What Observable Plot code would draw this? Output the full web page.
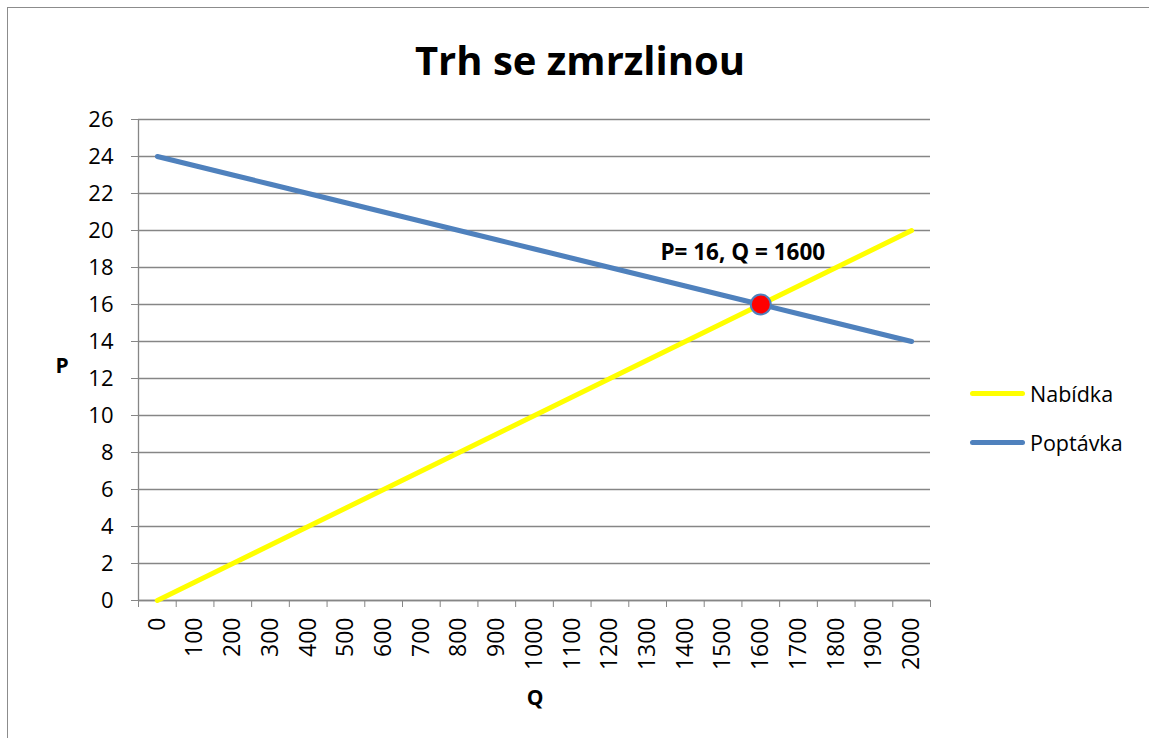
<!DOCTYPE html>
<html><head><meta charset="utf-8">
<script src="https://cdn.jsdelivr.net/npm/d3@7"></script>
<script src="https://cdn.jsdelivr.net/npm/@observablehq/plot@0.6"></script>
<style>
body{margin:0;background:#fff;font-family:"Open Sans",sans-serif;color:#000}
#wrap{position:relative;width:1149px;height:738px;overflow:hidden;background:#fff}
#frame{position:absolute;left:7px;top:7px;width:1200px;height:800px;border-left:1px solid #8c8c8c;border-top:1px solid #8c8c8c}
#chart{position:absolute;left:0;top:0}
#title{position:absolute;left:0;width:1160px;top:30px;text-align:center;font-weight:bold;font-size:40px;line-height:60px}
.axt{position:absolute;font-weight:bold;font-size:21px;line-height:24px;transform:translate(-50%,-50%)}
#legend{position:absolute;left:970px;top:378px}
.li{display:flex;align-items:center;height:30px;margin-bottom:19px;font-size:21.5px}
.sw{width:55px;height:5px;border-radius:3px;margin-right:5px}
</style></head>
<body><div id="wrap"><div id="frame"></div><div id="chart"></div>
<div id="title">Trh se zmrzlinou</div>
<div class="axt" style="left:62px;top:365px">P</div>
<div class="axt" style="left:535px;top:697px">Q</div>
<div id="legend"></div>
</div>
<script>
const quantities = [0,100,200,300,400,500,600,700,800,900,1000,1100,1200,1300,1400,1500,1600,1700,1800,1900,2000];
const supply = [0,1,2,3,4,5,6,7,8,9,10,11,12,13,14,15,16,17,18,19,20];
const demand = [24,23.5,23,22.5,22,21.5,21,20.5,20,19.5,19,18.5,18,17.5,17,16.5,16,15.5,15,14.5,14];
const priceTicks = [0,2,4,6,8,10,12,14,16,18,20,22,24,26];
const seriesNames = ["Nabídka","Poptávka"];
const seriesColors = ["#FFFF00","#4F81BD"];
const equilibrium = [{Q:1600,P:16,label:"P= 16, Q = 1600"}];

const rows = quantities.flatMap((q,i)=>[{Q:q,P:supply[i],s:seriesNames[0]},{Q:q,P:demand[i],s:seriesNames[1]}]);
const step = quantities[1]-quantities[0];
const boundaries = [...quantities.map(q=>q-step/2), quantities[quantities.length-1]+step/2];
const gridC = "#868686";

const chart = Plot.plot({
  width:1149, height:738,
  marginLeft:138, marginRight:219, marginTop:119, marginBottom:138,
  x:{type:"linear", domain:[boundaries[0], boundaries[boundaries.length-1]]},
  y:{domain:[0,26]},
  color:{domain:seriesNames, range:seriesColors},
  style:{fontFamily:"'Open Sans', sans-serif", color:"#000", background:"transparent", overflow:"visible"},
  marks:[
    Plot.gridY(priceTicks,{stroke:gridC, strokeOpacity:1, strokeWidth:1.3}),
    Plot.ruleX([boundaries[0]],{stroke:gridC, strokeWidth:1.3}),
    Plot.ruleY([0],{stroke:gridC, strokeWidth:1.3}),
    Plot.axisY(priceTicks,{tickSize:7, tickPadding:18, stroke:gridC, fill:"#000", label:null, fontSize:22}),
    Plot.axisX(boundaries,{tickSize:7, tickFormat:()=>"", stroke:gridC, label:null}),
    Plot.axisX(quantities,{tickSize:0, tickRotate:-90, tickPadding:17, fill:"#000", label:null, fontSize:23, tickFormat:d=>String(d)}),
    Plot.line(rows,{x:"Q", y:"P", z:"s", stroke:"s", strokeWidth:5, strokeLinecap:"round"}),
    Plot.dot(equilibrium,{x:"Q", y:"P", r:10, fill:"#FF0000", stroke:"#4F81BD", strokeWidth:2}),
    Plot.text(equilibrium,{x:"Q", y:"P", text:"label", dy:-52, dx:-18, fontWeight:"bold", fontSize:22.5, fill:"#000"})
  ]
});
document.getElementById("chart").appendChild(chart);

const lg = document.getElementById("legend");
seriesNames.forEach((n,i)=>{
  const d = document.createElement("div"); d.className="li";
  d.innerHTML = `<div class="sw" style="background:${seriesColors[i]}"></div><span>${n}</span>`;
  lg.appendChild(d);
});
</script>
</body></html>
